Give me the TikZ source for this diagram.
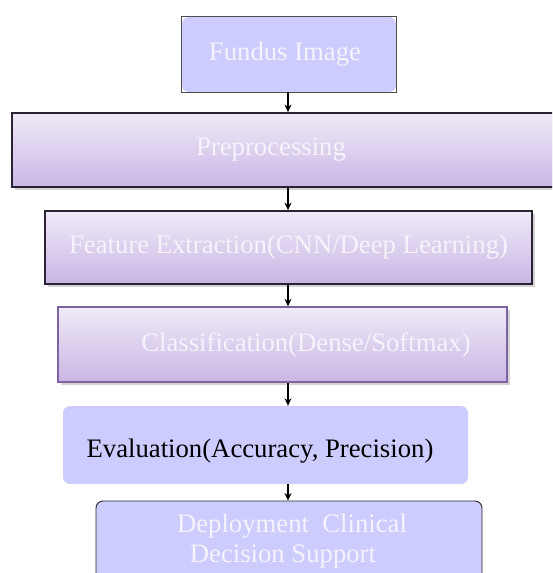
\documentclass[tikz,border=0pt]{standalone}
\usepackage{fontspec}
\setmainfont{Liberation Serif}
\usetikzlibrary{positioning,arrows.meta,shadows}
\definecolor{lavfill}{HTML}{CCCCFF}
\definecolor{gradtop}{HTML}{EFEAF8}
\definecolor{gradbot}{HTML}{C9B6E4}
\definecolor{darkedge}{HTML}{2C2236}
\definecolor{purpedge}{HTML}{8064A2}
\definecolor{paletext}{HTML}{F6F3FC}
\tikzset{
  stepfont/.style={font=\fontsize{26.7pt}{30pt}\selectfont},
  plainbox/.style={stepfont, fill=lavfill, text=paletext, inner sep=0pt, rounded corners=7pt},
  gradbox/.style={stepfont, top color=gradtop, bottom color=gradbot, text=paletext, inner sep=0pt,
    drop shadow={shadow xshift=2.5pt, shadow yshift=-3pt, opacity=0.35}},
  flowarrow/.style={line width=1.3pt, -{Stealth[length=7.5pt,width=7pt]}}
}
\begin{document}
\begin{tikzpicture}[x=1pt,y=-1pt]
		\useasboundingbox (0,0) rectangle (552,573);
		\clip (0,0) rectangle (552,573);
		\coordinate (ax) at (288,0);
		\node[plainbox, minimum width=214pt, minimum height=75pt] (fundus) at (289,54.5) {Fundus Image\hspace*{8pt}};
		\draw[line width=0.8pt, draw=black!70] (fundus.north west) rectangle (fundus.south east);
		\node[gradbox, draw=darkedge, line width=1.8pt, minimum width=562pt, minimum height=74pt] (prep) at (293,150) {Preprocessing\hspace*{44pt}};
		\node[gradbox, draw=darkedge, line width=1.8pt, minimum width=487pt, minimum height=73pt] (feat) at (288.5,247.5) {Feature Extraction(CNN/Deep Learning)};
		\node[gradbox, draw=purpedge, line width=1.4pt, minimum width=449pt, minimum height=75pt] (clf) at (282.5,344.5) {\hspace*{47pt}Classification(Dense/Softmax)};
		\node[plainbox, text=black, text height=30pt, text depth=6pt, minimum width=405pt, minimum height=78pt] (eval) at (265.5,445) {Evaluation(Accuracy, Precision)\hspace*{11pt}};
		\node[plainbox, draw=black!85, line width=0.9pt, align=center, minimum width=386pt, minimum height=80pt] (deploy) at (289,541) {\hspace*{6pt}Deployment\ \ Clinical\\Decision Support\hspace*{12pt}};
		\draw[flowarrow] (fundus.south -| ax) -- (prep.north -| ax);
		\draw[flowarrow] (prep.south -| ax) -- (feat.north -| ax);
		\draw[flowarrow] (feat.south -| ax) -- (clf.north -| ax);
		\draw[flowarrow] (clf.south -| ax) -- (eval.north -| ax);
		\draw[flowarrow] (eval.south -| ax) -- (deploy.north -| ax);
	\end{tikzpicture}
\end{document}
